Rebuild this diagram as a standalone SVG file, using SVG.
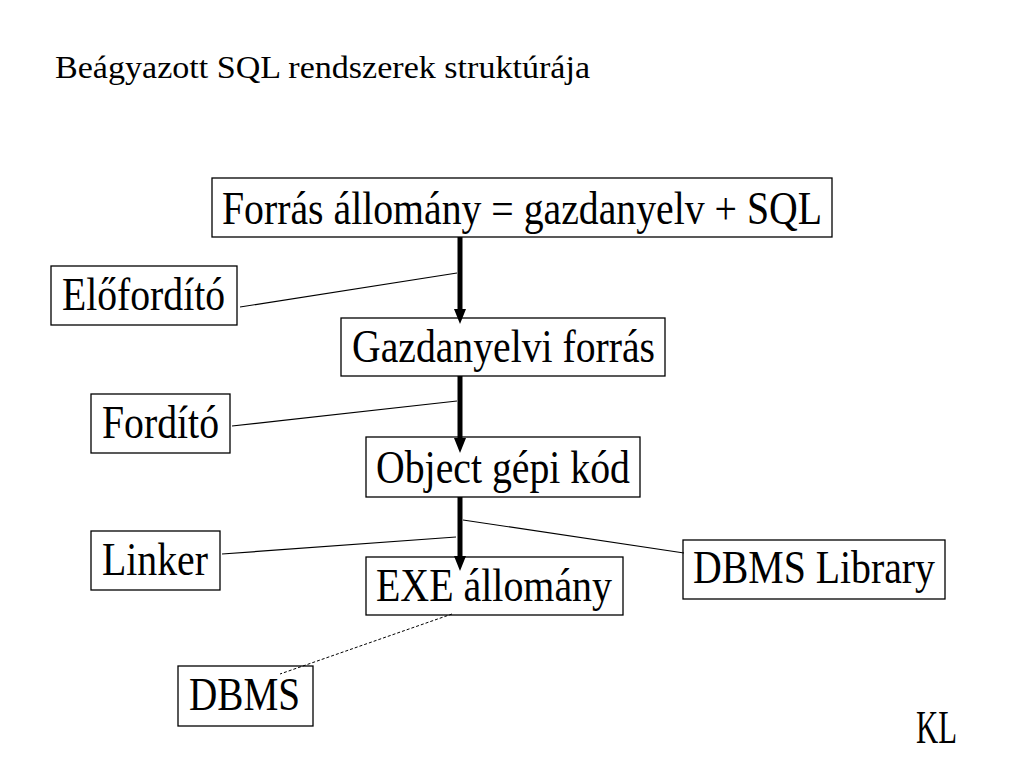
<svg xmlns="http://www.w3.org/2000/svg" width="1024" height="768" viewBox="0 0 1024 768">
<defs>
<style>
.box{fill:none;stroke:#000000;stroke-width:1.3}
.t{font-family:"Liberation Serif","Times New Roman",serif;font-size:46px;fill:#000000}
.title{font-family:"Liberation Serif","Times New Roman",serif;font-size:32px;fill:#000000}
.flow{stroke:#000000;stroke-width:5;fill:none}
.head{fill:#000000;stroke:none}
.thin{stroke:#000000;stroke-width:1.2;fill:none}
.dash{stroke:#000000;stroke-width:1;fill:none;stroke-dasharray:3,2}
</style>
</defs>
<rect width="1024" height="768" fill="#ffffff"/>
<text class="title" x="55" y="78" textLength="535" lengthAdjust="spacingAndGlyphs">Beágyazott SQL rendszerek struktúrája</text>

<g id="connectors">
<line class="flow" x1="460" y1="237" x2="460" y2="311"/>
<polygon class="head" points="454,309 466,309 460,324"/>
<line class="flow" x1="460" y1="376" x2="460" y2="440"/>
<polygon class="head" points="454,438 466,438 460,453"/>
<line class="flow" x1="460" y1="497" x2="460" y2="558"/>
<polygon class="head" points="454,556 466,556 460,571"/>
<line class="thin" x1="240" y1="307" x2="457" y2="273"/>
<line class="thin" x1="232" y1="426" x2="457" y2="401"/>
<line class="thin" x1="222" y1="554" x2="456" y2="537"/>
<line class="thin" x1="463" y1="520" x2="684" y2="553"/>
<line class="dash" x1="452" y1="614" x2="280" y2="674"/>
</g>

<g id="n-forras">
<rect class="box" x="212" y="178" width="620" height="59"/>
<text class="t" x="222" y="224" textLength="600" lengthAdjust="spacingAndGlyphs">Forrás állomány = gazdanyelv + SQL</text>
</g>
<g id="n-elofordito">
<rect class="box" x="51" y="266" width="186" height="59"/>
<text class="t" x="62" y="310" textLength="163" lengthAdjust="spacingAndGlyphs">Előfordító</text>
</g>
<g id="n-gazdanyelvi">
<rect class="box" x="341" y="318" width="324" height="58"/>
<text class="t" x="352" y="362" textLength="303" lengthAdjust="spacingAndGlyphs">Gazdanyelvi forrás</text>
</g>
<g id="n-fordito">
<rect class="box" x="91" y="394" width="139" height="59"/>
<text class="t" x="102" y="438" textLength="117" lengthAdjust="spacingAndGlyphs">Fordító</text>
</g>
<g id="n-object">
<rect class="box" x="366" y="437" width="274" height="60"/>
<text class="t" x="376" y="483" textLength="254" lengthAdjust="spacingAndGlyphs">Object gépi kód</text>
</g>
<g id="n-linker">
<rect class="box" x="91" y="531" width="129" height="59"/>
<text class="t" x="102" y="575" textLength="106" lengthAdjust="spacingAndGlyphs">Linker</text>
</g>
<g id="n-exe">
<rect class="box" x="366" y="557" width="257" height="58"/>
<text class="t" x="376" y="601" textLength="236" lengthAdjust="spacingAndGlyphs">EXE állomány</text>
</g>
<g id="n-dbmslib">
<rect class="box" x="683" y="540" width="262" height="59"/>
<text class="t" x="693" y="583" textLength="242" lengthAdjust="spacingAndGlyphs">DBMS Library</text>
</g>
<g id="n-dbms">
<rect class="box" x="178" y="666" width="135" height="60"/>
<text class="t" x="189" y="710" textLength="111" lengthAdjust="spacingAndGlyphs">DBMS</text>
</g>
<text class="t" x="916" y="743" font-size="34" textLength="41" lengthAdjust="spacingAndGlyphs">KL</text>
</svg>
